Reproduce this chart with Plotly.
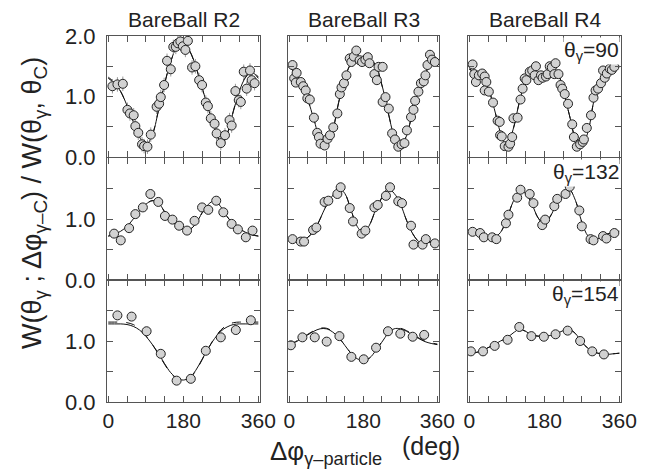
import plotly.graph_objects as go

# ---------------- data ----------------
columns = ["BareBall R2", "BareBall R3", "BareBall R4"]
theta_labels = ["90", "132", "154"]

fit_phi = [0, 15, 30, 45, 60, 75, 90, 105, 120, 135, 150, 165, 180,
           195, 210, 225, 240, 255, 270, 285, 300, 315, 330, 345, 360]

# ---- theta = 90 ----
r2_90_phi = [10, 22, 35, 46, 52, 61, 65, 72, 81, 86, 94, 102, 116, 122, 126, 134, 141, 150,
             156, 162, 167, 173, 179, 185, 191, 201, 209, 218, 225, 234, 239, 246, 255, 260,
             270, 280, 291, 296, 305, 313, 318, 325, 332, 340, 344, 351]
r2_90_w = [1.17, 1.20, 1.21, 0.78, 0.72, 0.69, 0.51, 0.40, 0.21, 0.18, 0.17, 0.37, 0.83, 0.88,
           0.99, 1.19, 1.59, 1.45, 1.82, 1.82, 1.88, 1.91, 1.83, 1.77, 1.92, 1.48, 1.50, 1.27,
           1.19, 0.90, 0.84, 0.64, 0.55, 0.39, 0.23, 0.36, 0.61, 0.52, 1.09, 0.94, 0.91, 1.41,
           1.13, 1.43, 1.27, 1.22]
r2_90_fit = [1.30, 1.22, 1.08, 0.85, 0.58, 0.33, 0.20, 0.35, 0.75, 1.20, 1.58, 1.82, 1.88,
             1.76, 1.50, 1.15, 0.80, 0.48, 0.25, 0.38, 0.75, 1.10, 1.32, 1.40, 1.30]
r2_90_dash = [1.32, 1.23, 1.08, 0.84, 0.57, 0.33, 0.21, 0.36, 0.76, 1.21, 1.58, 1.81, 1.87,
              1.75, 1.49, 1.14, 0.79, 0.48, 0.26, 0.39, 0.76, 1.11, 1.33, 1.41, 1.32]

r3_90_phi = [8, 12, 16, 18, 28, 34, 40, 44, 50, 60, 68, 72, 76, 86, 93, 99, 107, 117, 123,
             127, 133, 139, 147, 151, 157, 163, 171, 177, 185, 191, 195, 207, 213, 217, 227,
             227, 234, 242, 250, 257, 265, 273, 280, 286, 296, 302, 306, 314, 320, 327, 331,
             336, 342, 347, 354]
r3_90_w = [1.52, 1.30, 1.23, 1.39, 1.24, 1.17, 1.10, 0.97, 0.95, 0.65, 0.40, 0.33, 0.22, 0.19,
           0.30, 0.36, 0.49, 0.72, 1.04, 1.15, 1.22, 1.35, 1.63, 1.57, 1.66, 1.76, 1.60, 1.57,
           1.61, 1.65, 1.55, 1.37, 1.27, 1.49, 1.49, 0.91, 0.99, 0.80, 0.39, 0.29, 0.17, 0.21,
           0.23, 0.44, 0.66, 0.78, 0.93, 1.08, 1.22, 1.25, 1.35, 1.52, 1.69, 1.61, 1.57]
r3_90_fit = [1.48, 1.38, 1.20, 0.95, 0.62, 0.30, 0.20, 0.42, 0.90, 1.30, 1.55, 1.65, 1.62,
             1.62, 1.52, 1.20, 0.75, 0.35, 0.18, 0.35, 0.75, 1.10, 1.35, 1.58, 1.62]
r3_90_dash = [1.49, 1.39, 1.21, 0.95, 0.62, 0.31, 0.21, 0.43, 0.90, 1.30, 1.54, 1.64, 1.62,
              1.61, 1.51, 1.19, 0.75, 0.36, 0.19, 0.36, 0.75, 1.10, 1.35, 1.57, 1.61]

r4_90_phi = [8, 12, 16, 23, 31, 37, 41, 37, 47, 57, 68, 73, 74, 78, 85, 94, 98, 103, 106, 116,
             123, 128, 133, 137, 145, 151, 160, 157, 166, 172, 176, 184, 188, 193, 198, 204,
             207, 214, 219, 223, 229, 237, 247, 251, 258, 266, 272, 275, 282, 292, 298, 303,
             309, 316, 321, 325, 330, 337, 342, 348]
r4_90_w = [1.53, 1.37, 1.24, 1.35, 1.38, 1.33, 1.24, 1.10, 1.08, 0.90, 0.60, 0.58, 0.36, 0.34,
           0.18, 0.17, 0.22, 0.33, 0.64, 0.65, 0.95, 1.13, 1.30, 1.27, 1.41, 1.43, 1.50, 1.35,
           1.27, 1.35, 1.31, 1.33, 1.37, 1.50, 1.48, 1.37, 1.55, 1.37, 1.19, 1.13, 1.04, 0.88,
           0.54, 0.33, 0.17, 0.21, 0.25, 0.29, 0.48, 0.69, 0.98, 1.10, 1.13, 1.22, 1.43, 1.31,
           1.38, 1.46, 1.44, 1.49]
r4_90_fit = [1.45, 1.38, 1.32, 1.15, 0.80, 0.40, 0.18, 0.45, 0.90, 1.25, 1.40, 1.38, 1.32,
             1.40, 1.42, 1.10, 0.70, 0.30, 0.18, 0.42, 0.95, 1.20, 1.35, 1.45, 1.50]
r4_90_dash = [1.46, 1.39, 1.32, 1.14, 0.80, 0.41, 0.19, 0.45, 0.90, 1.24, 1.39, 1.37, 1.32,
              1.39, 1.41, 1.10, 0.70, 0.31, 0.19, 0.43, 0.95, 1.20, 1.35, 1.45, 1.49]

# ---- theta = 132 ----
r2_132_phi = [14, 30, 50, 65, 83, 101, 120, 136, 154, 170, 189, 207, 225, 240, 259, 276, 296,
              311, 330, 346]
r2_132_w = [0.76, 0.65, 0.85, 1.08, 1.19, 1.41, 1.28, 1.05, 0.99, 0.89, 0.81, 0.97, 1.19, 1.15,
            1.30, 1.11, 0.92, 0.83, 0.70, 0.81]
r2_132_fit = [0.72, 0.75, 0.80, 0.88, 1.00, 1.14, 1.24, 1.30, 1.27, 1.12, 0.98, 0.90, 0.84,
              0.83, 0.92, 1.10, 1.24, 1.30, 1.20, 1.04, 0.92, 0.84, 0.78, 0.74, 0.72]
r2_132_dash = r2_132_fit

r3_132_phi = [8, 28, 36, 58, 66, 86, 95, 117, 125, 147, 155, 176, 185, 207, 215, 235, 245, 265,
              274, 296, 302, 324, 332, 354]
r3_132_w = [0.67, 0.63, 0.63, 0.82, 0.86, 1.28, 1.30, 1.41, 1.52, 1.18, 0.96, 0.76, 0.81, 1.19,
            1.23, 1.38, 1.52, 1.29, 1.26, 0.89, 0.58, 0.58, 0.67, 0.60]
r3_132_fit = [0.68, 0.66, 0.64, 0.70, 0.80, 1.00, 1.22, 1.38, 1.50, 1.42, 1.15, 0.88, 0.77,
              0.90, 1.15, 1.35, 1.50, 1.42, 1.25, 0.98, 0.76, 0.63, 0.60, 0.63, 0.65]
r3_132_dash = r3_132_fit

r4_132_phi = [8, 26, 35, 55, 65, 88, 94, 115, 123, 145, 154, 175, 182, 204, 211, 231, 241, 264,
              270, 291, 298, 321, 329, 348]
r4_132_w = [0.79, 0.77, 0.70, 0.70, 0.67, 0.93, 1.07, 1.35, 1.48, 1.41, 1.26, 0.90, 0.99, 1.21,
            1.33, 1.41, 1.53, 1.14, 0.88, 0.67, 0.65, 0.72, 0.68, 0.77]
r4_132_fit = [0.78, 0.77, 0.74, 0.71, 0.70, 0.78, 1.00, 1.28, 1.45, 1.42, 1.25, 1.02, 0.92,
              1.05, 1.25, 1.38, 1.48, 1.30, 0.95, 0.72, 0.66, 0.70, 0.75, 0.78, 0.80]
r4_132_dash = r4_132_fit

# ---- theta = 154 ----
r2_154_phi = [22, 56, 92, 126, 164, 198, 234, 270, 306, 342]
r2_154_w = [1.42, 1.40, 1.16, 0.79, 0.35, 0.38, 0.84, 1.06, 1.18, 1.34]
r2_154_fit = [1.28, 1.28, 1.28, 1.27, 1.24, 1.18, 1.08, 0.95, 0.80, 0.63, 0.48, 0.39, 0.36,
              0.40, 0.52, 0.70, 0.88, 1.04, 1.16, 1.23, 1.27, 1.28, 1.28, 1.28, 1.28]
r2_154_dash = [1.31, 1.31, 1.31, 1.30, 1.27, 1.20, 1.09, 0.95, 0.79, 0.62, 0.47, 0.38, 0.35,
               0.39, 0.51, 0.69, 0.88, 1.05, 1.18, 1.26, 1.30, 1.31, 1.31, 1.31, 1.31]

r3_154_phi = [4, 32, 62, 91, 122, 151, 181, 211, 240, 270, 300, 328]
r3_154_w = [0.93, 1.06, 1.06, 0.99, 1.08, 0.74, 0.70, 0.89, 1.16, 1.12, 1.07, 1.10]
r3_154_fit = [0.94, 0.98, 1.04, 1.10, 1.16, 1.20, 1.20, 1.15, 1.06, 0.93, 0.80, 0.71, 0.68,
              0.72, 0.84, 0.98, 1.12, 1.20, 1.20, 1.16, 1.10, 1.04, 0.99, 0.96, 0.94]
r3_154_dash = [0.95, 0.99, 1.05, 1.11, 1.17, 1.21, 1.21, 1.16, 1.06, 0.93, 0.80, 0.71, 0.68,
               0.72, 0.84, 0.99, 1.13, 1.21, 1.21, 1.17, 1.11, 1.05, 1.00, 0.97, 0.95]

r4_154_phi = [4, 33, 61, 92, 120, 149, 179, 207, 236, 266, 295, 323]
r4_154_w = [0.83, 0.83, 0.92, 1.02, 1.23, 1.08, 1.07, 1.11, 1.17, 1.00, 0.83, 0.78]
r4_154_fit = [0.80, 0.81, 0.84, 0.89, 0.94, 1.00, 1.05, 1.13, 1.19, 1.16, 1.10, 1.08, 1.08,
              1.09, 1.12, 1.17, 1.19, 1.12, 0.98, 0.88, 0.82, 0.79, 0.78, 0.79, 0.80]
r4_154_dash = r4_154_fit

# error bar half-widths per panel (row-major)
panel_err = [0.12, 0.05, 0.0, 0.0, 0.0, 0.0, 0.0, 0.0, 0.0]

x_major = [0, 180, 360]
x_major_text = ["0", "180", "360"]
x_minor = [45, 90, 135, 225, 270, 315]
y_major_top = [0, 1.0, 2.0]
y_major_top_text = ["0.0", "1.0", "2.0"]
y_major_other = [0, 1.0]
y_major_other_text = ["0.0", "1.0"]
y_minor = [0.5, 1.5]

panels = [
    (r2_90_phi, r2_90_w, r2_90_fit, r2_90_dash),
    (r3_90_phi, r3_90_w, r3_90_fit, r3_90_dash),
    (r4_90_phi, r4_90_w, r4_90_fit, r4_90_dash),
    (r2_132_phi, r2_132_w, r2_132_fit, r2_132_dash),
    (r3_132_phi, r3_132_w, r3_132_fit, r3_132_dash),
    (r4_132_phi, r4_132_w, r4_132_fit, r4_132_dash),
    (r2_154_phi, r2_154_w, r2_154_fit, r2_154_dash),
    (r3_154_phi, r3_154_w, r3_154_fit, r3_154_dash),
    (r4_154_phi, r4_154_w, r4_154_fit, r4_154_dash),
]

# ---------------- layout geometry ----------------
# page body has an 8px margin, so the figure is drawn 8px in from the top-left
OFF = 8
PLOT_L, PLOT_R, PLOT_T, PLOT_B = 107, 621, 36, 402   # target page pixels
FW, FH = 659 - OFF, 474 - OFF
ML, MT = PLOT_L - OFF, PLOT_T - OFF
MR, MB = FW - (PLOT_R - OFF), FH - (PLOT_B - OFF)
PW = PLOT_R - PLOT_L
PH = PLOT_B - PLOT_T


def xp(px):
    return (px - PLOT_L) / PW


def yp(py):
    return (PLOT_B - py) / PH


col_px = [(107, 260), (288, 439), (468, 621)]
row_px = [(36, 157), (158, 280), (280, 402)]
col_dom = [[xp(a), xp(b)] for a, b in col_px]
row_dom = [[yp(b), yp(a)] for a, b in row_px]

FONT = "Liberation Sans, Arial, Helvetica, sans-serif"
AXC = "#555555"
TXT = "#222222"
minor_style = dict(ticks="inside", ticklen=6, tickcolor=AXC, tickwidth=1,
                   tickmode="array", showgrid=False)

fig = go.Figure()
layout = {}
for i, (phi, w, fit, dash) in enumerate(panels):
    r, c = divmod(i, 3)
    n = i + 1
    xa = "x" if n == 1 else f"x{n}"
    ya = "y" if n == 1 else f"y{n}"
    for yvals, dstyle in ((dash, "dash"), (fit, "solid")):
        fig.add_trace(go.Scatter(
            x=fit_phi, y=yvals, mode="lines", xaxis=xa, yaxis=ya,
            line=dict(color="#111111", width=1, dash=dstyle, shape="spline", smoothing=1.0),
            showlegend=False, hoverinfo="skip"))
    err = panel_err[i]
    fig.add_trace(go.Scatter(
        x=phi, y=w, mode="markers", xaxis=xa, yaxis=ya,
        marker=dict(size=9, color="#d2d2d2", line=dict(color="#222222", width=1)),
        error_y=dict(type="constant", value=err, visible=err > 0, color="#999999",
                     thickness=1, width=0),
        showlegend=False))
    key_x = "xaxis" if n == 1 else f"xaxis{n}"
    key_y = "yaxis" if n == 1 else f"yaxis{n}"
    layout[key_x] = dict(
        domain=col_dom[c], anchor=ya, range=[-3, 364],
        tickmode="array", tickvals=x_major, ticktext=x_major_text,
        showticklabels=(r == 2),
        minor=dict(tickvals=x_minor, **minor_style),
        ticks="inside", ticklen=6, tickcolor=AXC, tickwidth=1,
        showline=True, linecolor=AXC, linewidth=1, mirror="ticks",
        showgrid=False, zeroline=False,
        tickfont=dict(family=FONT, size=21, color=TXT))
    layout[key_y] = dict(
        domain=row_dom[r], anchor=xa, range=[0, 2],
        tickmode="array",
        tickvals=(y_major_top if r == 0 else y_major_other),
        ticktext=(y_major_top_text if r == 0 else y_major_other_text),
        showticklabels=(c == 0), ticklabelstandoff=6,
        minor=dict(tickvals=y_minor, **minor_style),
        ticks="inside", ticklen=6, tickcolor=AXC, tickwidth=1,
        showline=True, linecolor=AXC, linewidth=1, mirror="ticks",
        showgrid=False, zeroline=False,
        tickfont=dict(family=FONT, size=22, color=TXT))

annotations = []
for c, name in enumerate(columns):
    annotations.append(dict(
        text=name, xref="paper", yref="paper",
        x=sum(col_dom[c]) / 2, y=yp(20),
        xanchor="center", yanchor="middle", showarrow=False, borderpad=0,
        font=dict(family=FONT, size=21, color=TXT)))
for r, th in enumerate(theta_labels):
    n = r * 3 + 3
    annotations.append(dict(
        text=f"θ<sub>γ</sub>=" + th, xref=f"x{n} domain", yref=f"y{n} domain",
        x=0.995, y=0.99, xanchor="right", yanchor="top", showarrow=False,
        bgcolor="white", borderpad=0,
        font=dict(family=FONT, size=21, color=TXT)))
annotations.append(dict(
    text="W(θ<sub>γ</sub> ; Δφ<sub>γ–C</sub>) / W(θ<sub>γ</sub>, θ<sub>C</sub>)",
    xref="paper", yref="paper", x=xp(34), y=yp(203),
    xanchor="center", yanchor="middle", textangle=-90, showarrow=False,
    font=dict(family=FONT, size=27, color=TXT)))
annotations.append(dict(
    text="Δφ<sub>γ–particle</sub>",
    xref="paper", yref="paper", x=xp(268), y=yp(452),
    xanchor="left", yanchor="middle", showarrow=False,
    font=dict(family=FONT, size=26, color=TXT)))
annotations.append(dict(
    text="(deg)",
    xref="paper", yref="paper", x=xp(400), y=yp(446),
    xanchor="left", yanchor="middle", showarrow=False,
    font=dict(family=FONT, size=25, color=TXT)))

fig.update_layout(
    width=FW, height=FH,
    margin=dict(l=ML, r=MR, t=MT, b=MB),
    paper_bgcolor="white", plot_bgcolor="white",
    annotations=annotations,
    **layout)

fig.write_html("out.html")
